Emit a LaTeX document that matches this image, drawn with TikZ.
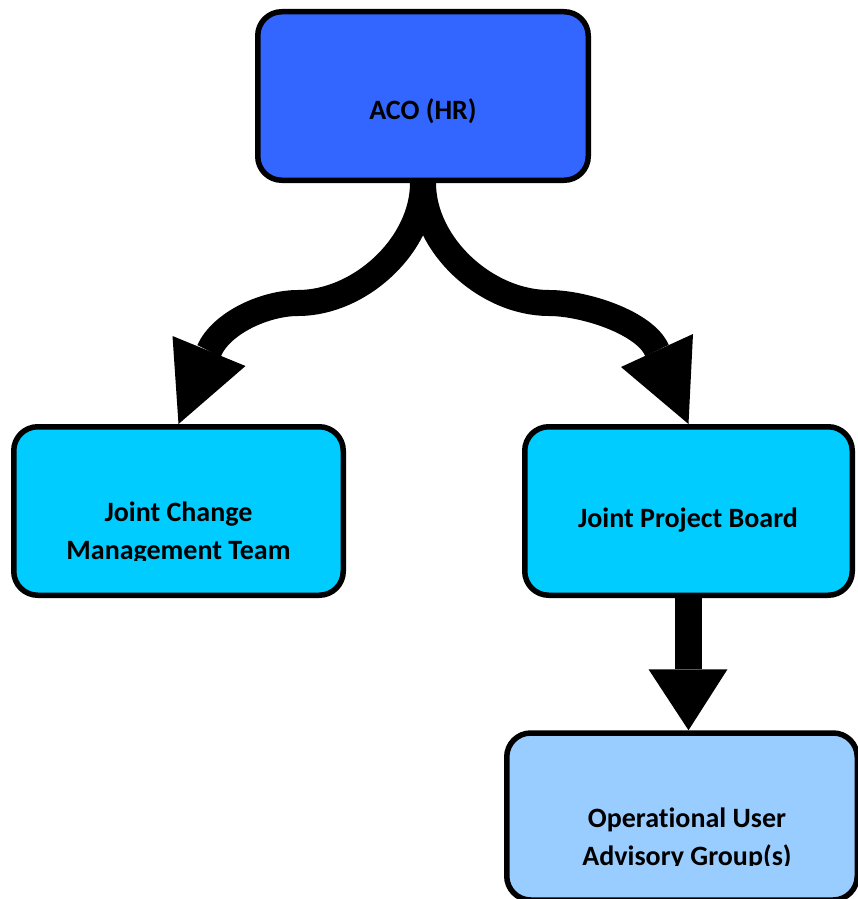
\documentclass[tikz,border=0pt]{standalone}
\usepackage{fontspec}
\setmainfont{Carlito}[Ligatures=NoCommon]
\usetikzlibrary{calc}
\definecolor{acoblue}{HTML}{3366FF}
\definecolor{teamcyan}{HTML}{00CCFF}
\definecolor{userblue}{HTML}{99CCFF}

\begin{document}
\begin{tikzpicture}[x=1pt,y=-1pt,
  box/.style={draw=black, line width=5.5pt, rounded corners=24pt, inner sep=0pt},
  boxtext/.style={anchor=base, inner sep=0pt, font=\fontsize{28}{38}\selectfont\bfseries},
  shaft/.style={draw=black, line width=26pt},
  head/.style={fill=black}]
\clip (0,0) rectangle (858,899);

% organisation boxes
\node[box, fill=acoblue,   minimum width=330.5pt, minimum height=168.5pt] (aco)  at (423,96)    {};
\node[box, fill=teamcyan,  minimum width=329.5pt, minimum height=168.5pt] (jcm)  at (178.5,511) {};
\node[box, fill=teamcyan,  minimum width=327.5pt, minimum height=168.5pt] (jpb)  at (688.5,511) {};
\node[box, fill=userblue,  minimum width=350.5pt, minimum height=167pt] (ouag) at (682,816.5) {};

% box captions
\node[boxtext] (acoText)  at (423,119)   {ACO (HR)};
\node[boxtext] (jcmText1) at (178.5,521.7) {Joint Change};
\begin{scope}
  \clip (0,0) rectangle (858,560);
  \node[boxtext] (jcmText2) at (178.5,559.3) {Management Team};
\end{scope}
\node[boxtext] (jpbText)  at (688,527.3) {Joint Project Board};
\node[boxtext] (ouagText1) at (687,827.7) {Operational User};
\begin{scope}
  \clip (0,0) rectangle (858,865.5);
  \node[boxtext] (ouagText2) at (687,865) {Advisory Group(s)};
\end{scope}

% curved arrow: ACO -> Joint Change Management Team
\coordinate (lTip)  at (jcm.north);
\coordinate (lBase) at ($(lTip)+(30.5,-73)$);
\draw[shaft] (aco.south) .. controls (423,245) and (360,303) .. (298,303)
  .. controls (265,303) and ($(lBase)+(12,-28)$) .. (lBase);
\fill[head] ($(lTip)+(-6,-88)$) -- (lTip) -- ($(lTip)+(67,-58)$) -- cycle;

% curved arrow: ACO -> Joint Project Board
\coordinate (rTip)  at (jpb.north);
\coordinate (rBase) at ($(rTip)+(-31.5,-73.5)$);
\draw[shaft] (aco.south) .. controls (423,245) and (486,303) .. (549,303)
  .. controls (584,303) and ($(rBase)+(-12,-28)$) .. (rBase);
\fill[head] ($(rTip)+(4.5,-90)$) -- (rTip) -- ($(rTip)+(-67.5,-57)$) -- cycle;

% straight arrow: Joint Project Board -> Operational User Advisory Group(s)
\coordinate (dTip) at (jpb.south |- ouag.north);
\draw[draw=black, line width=27pt] (jpb.south) -- ($(dTip)+(0,-61)$);
\fill[head] ($(dTip)+(-40,-61)$) -- (dTip) -- ($(dTip)+(39,-61)$) -- cycle;
\end{tikzpicture}
\end{document}
